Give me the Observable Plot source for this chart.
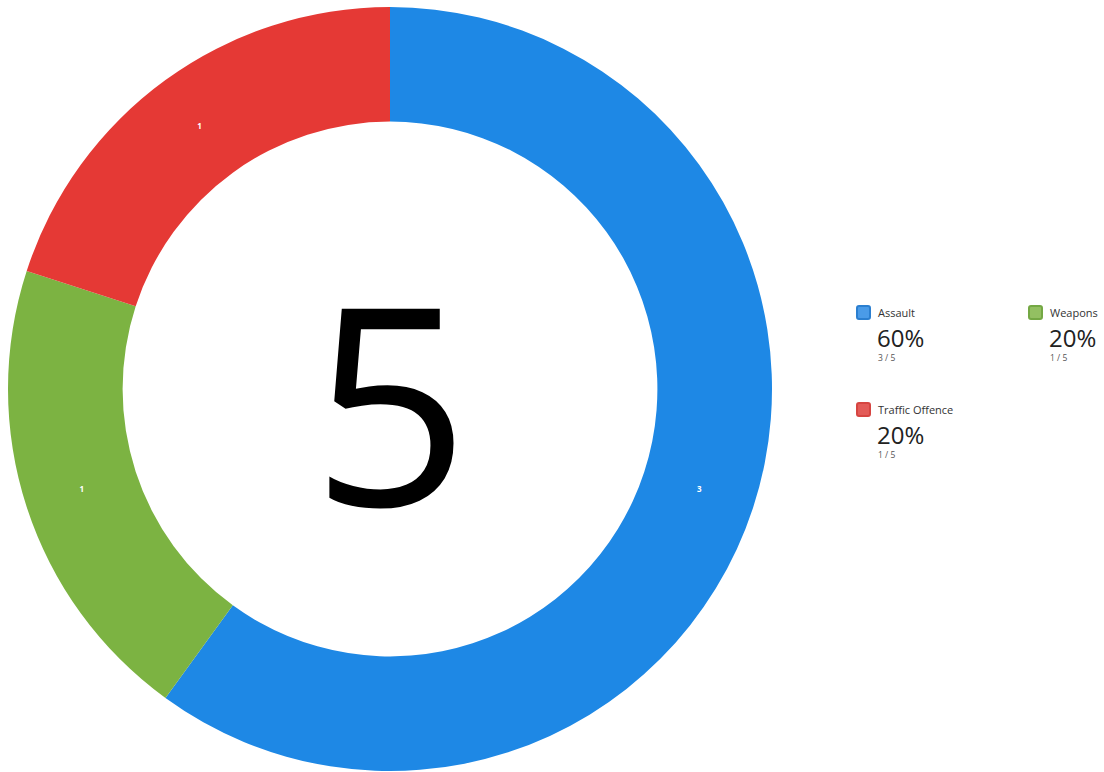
<!DOCTYPE html>
<html>
<head>
<meta charset="utf-8">
<script src="https://cdn.jsdelivr.net/npm/d3@7"></script>
<script src="https://cdn.jsdelivr.net/npm/@observablehq/plot@0.6"></script>
<style>
  html, body { margin: 0; padding: 0; background: #fff; }
  #wrap { position: relative; width: 1104px; height: 772px; font-family: "Open Sans", "Noto Sans", sans-serif; }
  #legend { position: absolute; left: 856px; top: 305px; display: grid; grid-template-columns: 172px 80px; grid-auto-rows: 97px; }
  .item { position: relative; }
  .sw { position: absolute; left: 0; top: 0; width: 11px; height: 11px; border: 2px solid; border-radius: 3px; }
  .name { position: absolute; left: 22px; top: 0px; font-size: 11px; color: #333; white-space: nowrap; }
  .pct { position: absolute; left: 21px; top: 16px; font-size: 24px; color: #222; }
  .frac { position: absolute; left: 22px; top: 47px; font-size: 8.5px; color: #555; white-space: nowrap; }
</style>
</head>
<body>
<div id="wrap"><div id="chart"></div><div id="legend"></div></div>
<script>
const categories = ["Assault", "Weapons", "Traffic Offence"];
const counts = [3, 1, 1];
const colors = ["#1E88E5", "#7CB342", "#E53935"];
const swatchFill = ["#4A9BE8", "#93C062", "#E35B58"];
const borders = ["#2B7FD0", "#74A844", "#D64541"];

const total = d3.sum(counts);
const innerFrac = 0.70;
const pie = d3.pie().sort(null).value(d => d.count)(categories.map((c, i) => ({category: c, count: counts[i], color: colors[i]})));
const slices = pie.map(p => ({...p.data, a0: p.startAngle, a1: p.endAngle, mid: (p.startAngle + p.endAngle) / 2}));
const rMid = (1 + innerFrac) / 2;
const labels = slices.map(s => ({...s, lx: rMid * Math.sin(s.mid), ly: rMid * Math.cos(s.mid)}));

const arcMark = (index, scales, values, dimensions) => {
  const cx = scales.x(0), cy = scales.y(0);
  const R = scales.x(1) - scales.x(0);
  const g = d3.create("svg:g").attr("transform", `translate(${cx},${cy})`);
  const arc = d3.arc().innerRadius(R * innerFrac).outerRadius(R);
  g.selectAll("path").data(slices).join("path")
    .attr("d", d => arc({startAngle: d.a0, endAngle: d.a1}))
    .attr("fill", d => d.color);
  return g.node();
};

const plot = Plot.plot({
  width: 1104,
  height: 772,
  marginLeft: 8,
  marginRight: 332,
  marginTop: 7,
  marginBottom: 1,
  x: {domain: [-1, 1], axis: null},
  y: {domain: [-1, 1], axis: null},
  style: {fontFamily: "'Open Sans', 'Noto Sans', sans-serif", background: "#fff"},
  marks: [
    arcMark,
    Plot.text(labels, {x: "lx", y: "ly", text: d => String(d.count), fill: "#fff", fontSize: 8, fontWeight: "bold"}),
    Plot.text([total], {frameAnchor: "middle", text: d => String(d), fontSize: 276, fill: "#000", dy: 28, fontWeight: 370, fontStretch: "condensed"})
  ]
});
document.getElementById("chart").appendChild(plot);

const legend = d3.select("#legend");
categories.forEach((c, i) => {
  const it = legend.append("div").attr("class", "item");
  it.append("div").attr("class", "sw").style("background", swatchFill[i]).style("border-color", borders[i]);
  it.append("div").attr("class", "name").text(c);
  it.append("div").attr("class", "pct").text(Math.round(counts[i] / total * 100) + "%");
  it.append("div").attr("class", "frac").text(`${counts[i]} / ${total}`);
});
</script>
</body>
</html>
